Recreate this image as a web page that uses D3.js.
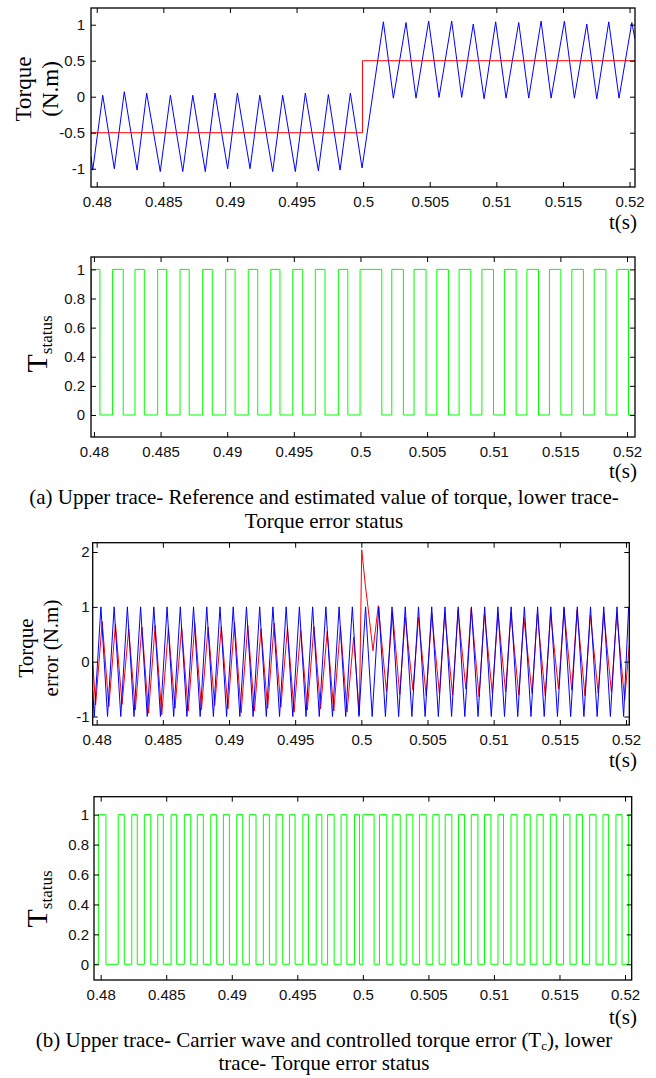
<!DOCTYPE html>
<html>
<head>
<meta charset="utf-8">
<script src="https://cdn.jsdelivr.net/npm/d3@7"></script>
<style>
  body { margin: 0; background: #fff; }
  svg { display: block; }
</style>
</head>
<body>
<svg id="chart" width="656" height="1078"></svg>
<script>
// ---- data ----
const timeTicks = [0.48, 0.485, 0.49, 0.495, 0.5, 0.505, 0.51, 0.515, 0.52];
const timeTickLabels = ["0.48", "0.485", "0.49", "0.495", "0.5", "0.505", "0.51", "0.515", "0.52"];

const torqueTicks = [-1, -0.5, 0, 0.5, 1];
const torqueTickLabels = ["-1", "-0.5", "0", "0.5", "1"];
const statusTicks = [0, 0.2, 0.4, 0.6, 0.8, 1];
const statusTickLabels = ["0", "0.2", "0.4", "0.6", "0.8", "1"];
const errorTicks = [-1, 0, 1, 2];
const errorTickLabels = ["-1", "0", "1", "2"];

// (a) upper: reference torque (red) and estimated torque (blue), [t, N.m]
const referenceTorque = [[0.4795, -0.5], [0.49995, -0.5], [0.49995, 0.5], [0.5205, 0.5]];
const estimatedTorque = [
  [0.47957, -0.83], [0.47970, -1.02], [0.48045, 0.02], [0.48132, -1.0], [0.48207, 0.07],
  [0.48303, -1.02], [0.48375, 0.05], [0.48477, -1.04], [0.48553, 0.02], [0.48646, -1.04],
  [0.48721, 0.02], [0.48815, -1.04], [0.48888, 0.05], [0.48983, -1.0], [0.49056, 0.05],
  [0.49151, -1.0], [0.49224, 0.02], [0.49321, -1.04], [0.49396, 0.02], [0.49491, -1.04],
  [0.49566, 0.05], [0.49664, -1.03], [0.49739, 0.03], [0.49827, -1.02], [0.49904, 0.05],
  [0.49992, -0.99], [0.50152, 1.04], [0.50227, -0.02], [0.50322, 1.03], [0.50397, -0.02],
  [0.50492, 1.05], [0.50570, -0.01], [0.50665, 1.05], [0.50740, -0.01], [0.50827, 1.01],
  [0.50908, -0.03], [0.50995, 1.04], [0.51073, -0.02], [0.51168, 1.03], [0.51243, -0.02],
  [0.51336, 1.05], [0.51411, -0.02], [0.51511, 1.05], [0.51586, -0.02], [0.51679, 1.01],
  [0.51754, -0.03], [0.51844, 1.04], [0.51921, -0.02], [0.52017, 1.03], [0.52041, 0.8]
];

// (a) lower: torque error status, [switch time, new level]
const statusA = [
  [0.47978, 0], [0.47982, 1], [0.48045, 0], [0.48140, 1], [0.48220, 0], [0.48308, 1],
  [0.48378, 0], [0.48478, 1], [0.48546, 0], [0.48646, 1], [0.48715, 0], [0.48816, 1],
  [0.48888, 0], [0.48989, 1], [0.49059, 0], [0.49158, 1], [0.49229, 0], [0.49327, 1],
  [0.49396, 0], [0.49492, 1], [0.49567, 0], [0.49661, 1], [0.49734, 0], [0.49834, 1],
  [0.49905, 0], [0.49997, 1], [0.50160, 0], [0.50235, 1], [0.50322, 0], [0.50402, 1],
  [0.50492, 0], [0.50573, 1], [0.50660, 0], [0.50740, 1], [0.50828, 0], [0.50911, 1],
  [0.50998, 0], [0.51080, 1], [0.51168, 0], [0.51249, 1], [0.51336, 0], [0.51418, 1],
  [0.51504, 0], [0.51586, 1], [0.51673, 0], [0.51754, 1], [0.51842, 0], [0.51924, 1],
  [0.52011, 0], [0.52060, 0]
];

// (b) upper: carrier wave (blue) and controlled torque error (red)
const carrierWave = [
  [0.47970, -0.52], [0.47982, -1], [0.48032, 1], [0.48082, -1], [0.48132, 1], [0.48182, -1],
  [0.48232, 1], [0.48282, -1], [0.48332, 1], [0.48382, -1], [0.48432, 1], [0.48482, -1],
  [0.48532, 1], [0.48582, -1], [0.48632, 1], [0.48682, -1], [0.48732, 1], [0.48782, -1],
  [0.48832, 1], [0.48882, -1], [0.48932, 1], [0.48982, -1], [0.49032, 1], [0.49082, -1],
  [0.49132, 1], [0.49182, -1], [0.49232, 1], [0.49282, -1], [0.49332, 1], [0.49382, -1],
  [0.49432, 1], [0.49482, -1], [0.49532, 1], [0.49582, -1], [0.49632, 1], [0.49682, -1],
  [0.49732, 1], [0.49782, -1], [0.49832, 1], [0.49882, -1], [0.49932, 1], [0.49982, -1],
  [0.50032, 1], [0.50082, -1], [0.50132, 1], [0.50182, -1], [0.50232, 1], [0.50282, -1],
  [0.50332, 1], [0.50382, -1], [0.50432, 1], [0.50482, -1], [0.50532, 1], [0.50582, -1],
  [0.50632, 1], [0.50682, -1], [0.50732, 1], [0.50782, -1], [0.50832, 1], [0.50882, -1],
  [0.50932, 1], [0.50982, -1], [0.51032, 1], [0.51082, -1], [0.51132, 1], [0.51182, -1],
  [0.51232, 1], [0.51282, -1], [0.51332, 1], [0.51382, -1], [0.51432, 1], [0.51482, -1],
  [0.51532, 1], [0.51582, -1], [0.51632, 1], [0.51682, -1], [0.51732, 1], [0.51782, -1],
  [0.51832, 1], [0.51882, -1], [0.51932, 1], [0.51982, -1], [0.52020, 1]
];
const torqueError = [
  [0.47970, 0.0], [0.47992, -0.79], [0.48042, 0.73], [0.48092, -0.82], [0.48142, 0.69],
  [0.48192, -0.78], [0.48242, 0.60], [0.48292, -0.88], [0.48342, 0.63], [0.48392, -0.94],
  [0.48442, 0.66], [0.48492, -0.97], [0.48542, 0.61], [0.48592, -0.85], [0.48642, 0.62],
  [0.48692, -0.90], [0.48742, 0.70], [0.48792, -0.88], [0.48842, 0.63], [0.48892, -0.80],
  [0.48942, 0.64], [0.48992, -0.86], [0.49042, 0.72], [0.49092, -0.93], [0.49142, 0.66],
  [0.49192, -0.90], [0.49242, 0.60], [0.49292, -0.85], [0.49342, 0.70], [0.49392, -0.83],
  [0.49442, 0.62], [0.49492, -0.92], [0.49542, 0.58], [0.49592, -0.88], [0.49642, 0.64],
  [0.49692, -0.86], [0.49742, 0.55], [0.49792, -0.90], [0.49842, 0.64], [0.49892, -0.92],
  [0.49942, 0.45], [0.49985, -0.97], [0.50003, 2.04], [0.50030, 1.40], [0.50050, 1.00],
  [0.50088, 0.20], [0.50128, 1.02], [0.50190, -0.55], [0.50236, 0.91], [0.50290, -0.60],
  [0.50332, 0.81], [0.50390, -0.52], [0.50432, 0.81], [0.50490, -0.62], [0.50532, 0.87],
  [0.50590, -0.58], [0.50630, 0.87], [0.50690, -0.61], [0.50731, 0.94], [0.50790, -0.50],
  [0.50830, 0.97], [0.50890, -0.64], [0.50930, 0.87], [0.50990, -0.58], [0.51033, 0.89],
  [0.51090, -0.55], [0.51130, 0.89], [0.51190, -0.61], [0.51228, 0.81], [0.51290, -0.58],
  [0.51330, 0.87], [0.51390, -0.62], [0.51430, 0.89], [0.51490, -0.50], [0.51532, 0.97],
  [0.51590, -0.52], [0.51630, 0.94], [0.51690, -0.62], [0.51731, 0.85], [0.51790, -0.58],
  [0.51832, 0.89], [0.51890, -0.56], [0.51930, 0.87], [0.51990, -0.70], [0.52025, 0.30]
];

// (b) lower: torque error status, [switch time, new level]
const statusB = [
  [0.47949, 0], [0.47982, 1], [0.48040, 0], [0.48134, 1], [0.48180, 0], [0.48237, 1],
  [0.48279, 0], [0.48333, 1], [0.48382, 0], [0.48435, 1], [0.48478, 0], [0.48537, 1],
  [0.48580, 0], [0.48638, 1], [0.48687, 0], [0.48737, 1], [0.48783, 0], [0.48840, 1],
  [0.48885, 0], [0.48936, 1], [0.48982, 0], [0.49038, 1], [0.49084, 0], [0.49134, 1],
  [0.49185, 0], [0.49241, 1], [0.49287, 0], [0.49338, 1], [0.49389, 0], [0.49440, 1],
  [0.49483, 0], [0.49542, 1], [0.49585, 0], [0.49644, 1], [0.49687, 0], [0.49731, 1],
  [0.49781, 0], [0.49834, 1], [0.49878, 0], [0.49936, 1], [0.49974, 0], [0.50000, 1],
  [0.50086, 0], [0.50127, 1], [0.50183, 0], [0.50229, 1], [0.50285, 0], [0.50331, 1],
  [0.50382, 0], [0.50432, 1], [0.50483, 0], [0.50534, 1], [0.50582, 0], [0.50628, 1],
  [0.50679, 0], [0.50730, 1], [0.50776, 0], [0.50827, 1], [0.50878, 0], [0.50928, 1],
  [0.50977, 0], [0.51031, 1], [0.51073, 0], [0.51130, 1], [0.51176, 0], [0.51231, 1],
  [0.51277, 0], [0.51328, 1], [0.51376, 0], [0.51430, 1], [0.51476, 0], [0.51531, 1],
  [0.51580, 0], [0.51628, 1], [0.51676, 0], [0.51730, 1], [0.51779, 0], [0.51832, 1],
  [0.51875, 0], [0.51931, 1], [0.51977, 0], [0.52027, 1], [0.52051, 1]
];

// ---- drawing ----
const svg = d3.select("#chart");
svg.append("rect").attr("width", 656).attr("height", 1078).attr("fill", "#fff");

const SANS = "'Liberation Sans', Arial, Helvetica, sans-serif";
const SERIF = "'Liberation Serif', 'Times New Roman', Times, serif";

function drawPanel(p) {
    const x = d3.scaleLinear().domain(p.xDomain).range([p.left, p.right]);
    const y = d3.scaleLinear().domain(p.yDomain).range([p.bottom, p.top]);

    const clipId = "clip-" + p.id;
    svg.append("clipPath").attr("id", clipId)
        .append("rect")
        .attr("x", p.left).attr("y", p.top)
        .attr("width", p.right - p.left).attr("height", p.bottom - p.top);

    const plot = svg.append("g").attr("clip-path", `url(#${clipId})`);
    p.series.forEach(s => {
        const line = d3.line()
            .x(d => x(d[0]))
            .y(d => y(d[1]));
        if (s.step) line.curve(d3.curveStepAfter);
        plot.append("path")
            .datum(s.data)
            .attr("fill", "none")
            .attr("stroke", s.color)
            .attr("stroke-width", 1)
            .attr("stroke-linejoin", "round")
            .attr("d", line);
    });

    // MATLAB style: ticks inside on all four sides
    const axes = [
        { gen: d3.axisBottom(x).tickValues(timeTicks).tickFormat((d, i) => timeTickLabels[i]).tickPadding(9.5),
          pos: `translate(0,${p.bottom})` },
        { gen: d3.axisTop(x).tickValues(timeTicks).tickFormat(""), pos: `translate(0,${p.top})` },
        { gen: d3.axisLeft(y).tickValues(p.yTicks).tickFormat((d, i) => p.yLabels[i]).tickPadding(p.yPad),
          pos: `translate(${p.left},0)` },
        { gen: d3.axisRight(y).tickValues(p.yTicks).tickFormat(""), pos: `translate(${p.right},0)` }
    ];
    axes.forEach(a => {
        const g = svg.append("g")
            .attr("transform", a.pos)
            .call(a.gen.tickSizeInner(-5).tickSizeOuter(0));
        g.select(".domain").remove();
        g.selectAll("line").attr("stroke", "#000");
        g.selectAll("text")
            .attr("font-family", SANS)
            .attr("font-size", 15)
            .attr("fill", "#111");
    });

    svg.append("rect")
        .attr("x", p.left).attr("y", p.top)
        .attr("width", p.right - p.left).attr("height", p.bottom - p.top)
        .attr("fill", "none")
        .attr("stroke", "#000")
        .attr("stroke-width", 1.3);

    svg.append("text")
        .attr("x", 637).attr("y", p.tLabelY)
        .attr("text-anchor", "end")
        .attr("font-family", SERIF)
        .attr("font-size", 21)
        .text("t(s)");
}

function twoLineLabel(lines, xs, cy, size) {
    lines.forEach((txt, i) => {
        svg.append("text")
            .attr("transform", `translate(${xs[i]},${cy}) rotate(-90)`)
            .attr("text-anchor", "middle")
            .attr("font-family", SERIF)
            .attr("font-size", size)
            .text(txt);
    });
}

function statusLabel(bx, cy) {
    const t = svg.append("text")
        .attr("transform", `translate(${bx},${cy}) rotate(-90)`)
        .attr("text-anchor", "middle")
        .attr("font-family", SERIF);
    t.append("tspan").attr("font-size", 30).text("T");
    t.append("tspan").attr("font-size", 17).attr("dy", 5).text("status");
}

drawPanel({
    id: "a1", left: 91, top: 8, right: 635, bottom: 187,
    xDomain: [0.47957, 0.52041], yDomain: [-1.254, 1.232],
    yTicks: torqueTicks, yLabels: torqueTickLabels, yPad: 6, tLabelY: 229,
    series: [
        { data: estimatedTorque, color: "#0000ff" },
        { data: referenceTorque, color: "#ff0000" }
    ]
});
twoLineLabel(["Torque", "(N.m)"], [31, 58], 89, 23);

drawPanel({
    id: "a2", left: 91, top: 257, right: 635, bottom: 437,
    xDomain: [0.47978, 0.52060], yDomain: [-0.151, 1.085],
    yTicks: statusTicks, yLabels: statusTickLabels, yPad: 6, tLabelY: 478,
    series: [{ data: statusA, color: "#00ff00", step: true }]
});
statusLabel(47, 344);

drawPanel({
    id: "b1", left: 92.7, top: 542.7, right: 629.3, bottom: 725,
    xDomain: [0.4797, 0.52025], yDomain: [-1.155, 2.17],
    yTicks: errorTicks, yLabels: errorTickLabels, yPad: 3, tLabelY: 767,
    series: [
        { data: torqueError, color: "#ff0000" },
        { data: carrierWave, color: "#0000ff" }
    ]
});
twoLineLabel(["Torque", "error (N.m)"], [33, 58], 648, 21);

drawPanel({
    id: "b2", left: 94, top: 796.7, right: 631.7, bottom: 980,
    xDomain: [0.47949, 0.52051], yDomain: [-0.105, 1.12],
    yTicks: statusTicks, yLabels: statusTickLabels, yPad: 5, tLabelY: 1024,
    series: [{ data: statusB, color: "#00ff00", step: true }]
});
statusLabel(47, 899);

// captions
function caption(y, build) {
    const t = svg.append("text")
        .attr("x", 324).attr("y", y)
        .attr("text-anchor", "middle")
        .attr("font-family", SERIF)
        .attr("font-size", 21);
    build(t);
}
caption(504, t => t.text("(a) Upper trace- Reference and estimated value of torque, lower trace-"));
caption(528, t => t.text("Torque error status"));
caption(1047, t => {
    t.append("tspan").text("(b) Upper trace- Carrier wave and controlled torque error (T");
    t.append("tspan").attr("font-size", 13).attr("dy", 3).text("c");
    t.append("tspan").attr("dy", -3).text("), lower");
});
caption(1070, t => t.text("trace- Torque error status"));
</script>
</body>
</html>
